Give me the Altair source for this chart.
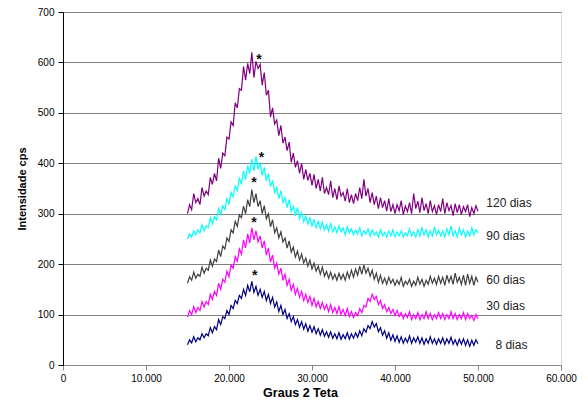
import altair as alt
import pandas as pd

# readings every 0.25 degree of 2-theta, from 15 to 50
X_START = 15.0
X_STEP = 0.25

s120 = [300, 318, 308, 340, 322, 330, 318, 352, 335, 345, 338, 372, 358, 380, 365, 410, 390, 420, 415, 452,
        448, 482, 475, 520, 510, 548, 545, 592, 565, 598, 578, 620, 570, 602, 588, 596, 555, 580, 535, 545,
        492, 510, 478, 486, 455, 475, 440, 452, 425, 442, 402, 420, 392, 405, 380, 400, 368, 388, 366, 380,
        356, 378, 350, 368, 345, 372, 340, 352, 338, 365, 332, 350, 328, 355, 335, 342, 325, 350, 322, 338,
        320, 340, 326, 352, 330, 368, 335, 350, 322, 342, 318, 335, 310, 332, 312, 326, 305, 330, 304, 318,
        300, 318, 306, 326, 298, 315, 304, 322, 300, 340, 310, 325, 302, 332, 306, 320, 300, 326, 304, 316,
        298, 318, 304, 330, 300, 322, 306, 316, 296, 320, 302, 318, 298, 314, 304, 318, 294, 312, 300, 316,
        305]
s90 = [250, 260, 254, 266, 258, 268, 262, 278, 266, 276, 272, 292, 280, 294, 288, 310, 298, 316, 308, 330,
       318, 342, 334, 355, 346, 370, 360, 385, 368, 396, 380, 408, 385, 414, 388, 402, 376, 392, 365, 380,
       354, 366, 342, 352, 330, 346, 322, 332, 312, 328, 304, 315, 296, 312, 290, 302, 284, 296, 280, 292,
       276, 288, 272, 285, 270, 284, 268, 278, 265, 282, 264, 274, 262, 276, 264, 272, 258, 274, 262, 270,
       258, 268, 260, 272, 256, 266, 260, 270, 256, 268, 258, 264, 254, 268, 256, 263, 254, 266, 256, 268,
       254, 264, 256, 266, 254, 262, 256, 270, 256, 264, 254, 268, 256, 272, 258, 268, 254, 266, 256, 274,
       258, 268, 256, 266, 254, 270, 258, 276, 256, 266, 254, 272, 258, 268, 254, 266, 256, 272, 258, 268,
       262]
s60 = [162, 175, 168, 184, 172, 180, 176, 194, 182, 192, 188, 208, 196, 210, 205, 228, 215, 236, 230, 252,
       245, 268, 262, 285, 275, 298, 292, 315, 300, 328, 314, 348, 322, 340, 314, 326, 300, 316, 290, 300,
       274, 288, 262, 272, 252, 264, 244, 252, 232, 246, 224, 234, 214, 226, 208, 220, 202, 212, 196, 208,
       190, 202, 186, 196, 180, 194, 176, 186, 172, 184, 170, 180, 168, 182, 170, 180, 168, 184, 172, 188,
       174, 190, 178, 196, 180, 198, 182, 192, 176, 188, 170, 182, 164, 178, 162, 172, 160, 174, 162, 170,
       158, 168, 160, 174, 156, 166, 160, 170, 156, 166, 158, 174, 160, 170, 156, 168, 160, 176, 162, 172,
       160, 176, 162, 174, 158, 178, 164, 176, 160, 182, 164, 174, 160, 178, 158, 180, 162, 176, 158, 174,
       164]
s30 = [95, 108, 100, 116, 104, 114, 108, 126, 115, 126, 120, 140, 130, 146, 138, 162, 150, 170, 164, 186,
       175, 198, 192, 215, 206, 230, 220, 248, 232, 260, 242, 272, 248, 266, 244, 256, 232, 246, 218, 232,
       204, 218, 192, 202, 180, 192, 168, 180, 158, 170, 148, 160, 140, 152, 134, 146, 128, 140, 124, 136,
       118, 132, 115, 126, 112, 124, 110, 120, 106, 120, 104, 114, 102, 116, 100, 110, 98, 112, 96, 106,
       94, 104, 98, 112, 104, 118, 115, 132, 126, 140, 130, 136, 120, 128, 112, 120, 106, 114, 102, 110,
       98, 108, 96, 104, 92, 102, 94, 106, 90, 100, 92, 104, 90, 100, 92, 106, 92, 102, 90, 100,
       92, 104, 92, 102, 90, 100, 92, 106, 92, 102, 90, 100, 92, 104, 90, 102, 92, 98, 88, 100,
       92]
s8 = [40, 50, 44, 56, 46, 54, 50, 62, 54, 62, 58, 74, 64, 76, 70, 90, 80, 96, 92, 108,
      100, 118, 112, 128, 122, 138, 132, 150, 138, 158, 145, 166, 144, 156, 138, 150, 134, 146, 128, 140,
      122, 134, 115, 125, 106, 118, 100, 110, 92, 102, 86, 96, 80, 90, 75, 86, 71, 82, 67, 78,
      65, 76, 62, 72, 59, 70, 57, 66, 55, 66, 53, 62, 52, 64, 51, 60, 52, 64, 51, 62,
      53, 64, 55, 68, 58, 72, 65, 78, 72, 86, 75, 82, 66, 74, 59, 68, 53, 64, 49, 60,
      47, 58, 45, 56, 43, 53, 45, 58, 43, 54, 45, 56, 43, 54, 41, 52, 43, 56, 43, 52,
      41, 52, 43, 54, 41, 52, 43, 55, 41, 50, 39, 51, 41, 52, 39, 50, 37, 49, 39, 50,
      42]

series_names = ["120 dias", "90 dias", "60 dias", "30 dias", "8 dias"]
series_values = [s120, s90, s60, s30, s8]
series_colors = ["#800080", "#00FFFF", "#404040", "#FF00FF", "#000080"]

label_x = [51.0, 51.0, 51.0, 51.0, 52.1]
label_y = [321, 256, 169, 117, 40]

star_x = [23.6, 23.9, 23.0, 23.0, 23.1]
star_y = [611, 417, 367, 288, 182]

x_ticks = [0, 10, 20, 30, 40, 50, 60]
y_ticks = [0, 100, 200, 300, 400, 500, 600, 700]

rows = []
for name, vals in zip(series_names, series_values):
    for i, v in enumerate(vals):
        rows.append({"serie": name, "x": X_START + X_STEP * i, "y": v})
df = pd.DataFrame(rows)

labels_df = pd.DataFrame({"serie": series_names, "x": label_x, "y": label_y})
stars_df = pd.DataFrame({"x": star_x, "y": star_y, "t": ["*"] * len(star_x)})

FONT = "Liberation Sans"

x_enc = alt.X("x:Q", scale=alt.Scale(domain=[0, 60], nice=False),
              axis=alt.Axis(values=x_ticks, grid=False, labelFlush=False,
                            labelExpr="datum.value == 0 ? '0' : format(datum.value, '.3f')",
                            title="Graus 2 Teta", titleFontSize=12.5, titleX=237,
                            domainColor="#888888", tickColor="#888888",
                            tickSize=5, labelPadding=3, titlePadding=3))
y_enc = alt.Y("y:Q", scale=alt.Scale(domain=[0, 700], nice=False),
              axis=alt.Axis(values=y_ticks, grid=True, labelFlush=False,
                            gridColor="#808080", gridWidth=1, title="Intensidade cps",
                            domainColor="#000000", tickColor="#000000", tickSize=5,
                            labelPadding=4, titlePadding=10))

lines = alt.Chart(df).mark_line(strokeWidth=1.2).encode(
    x=x_enc, y=y_enc,
    color=alt.Color("serie:N", scale=alt.Scale(domain=series_names, range=series_colors), legend=None),
    detail="serie:N",
)

labels = alt.Chart(labels_df).mark_text(align="left", baseline="middle", fontSize=12,
                                         font=FONT, color="#222222").encode(
    x="x:Q", y="y:Q", text="serie:N")

stars = alt.Chart(stars_df).mark_text(align="center", baseline="middle", fontSize=14, dy=3,
                                        font=FONT, fontWeight="bold", color="#111111").encode(
    x="x:Q", y="y:Q", text="t:N")

chart = alt.layer(lines, labels, stars).properties(
    width=498, height=353,
    autosize=alt.AutoSizeParams(type="none"),
    padding={"left": 55, "top": 4, "right": 19, "bottom": 36},
).configure_view(stroke="#808080", strokeWidth=1).configure_axis(
    labelFont=FONT, labelFontSize=12.5, labelColor="#222222",
    titleFont=FONT, titleFontSize=11, titleFontWeight="bold", titleColor="#222222",
).configure(background="white")

chart.save("out.html", embed_options={"renderer": "svg", "actions": False})
